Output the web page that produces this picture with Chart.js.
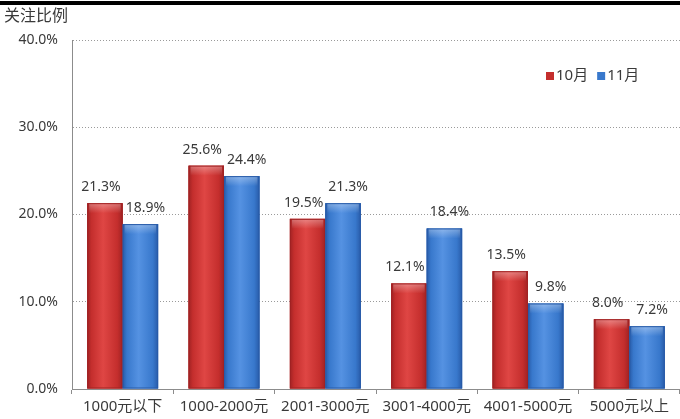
<!DOCTYPE html>
<html>
<head>
<meta charset="utf-8">
<script src="https://cdn.jsdelivr.net/npm/chart.js@4.4.1/dist/chart.umd.min.js"></script>
<style>
  html, body { margin: 0; padding: 0; background: #fff; }
  #wrap { width: 680px; height: 419px; position: relative; }
</style>
</head>
<body>
<div id="wrap"><canvas id="chart-price"></canvas></div>
<script>
// ===== 价格段关注比例 =====
const CATEGORIES = ['1000元以下', '1000-2000元', '2001-3000元', '3001-4000元', '4001-5000元', '5000元以上'];
const SERIES_NAMES = ['10月', '11月'];
const OCT_VALUES = [21.3, 25.6, 19.5, 12.1, 13.5, 8.0];
const NOV_VALUES = [18.9, 24.4, 21.3, 18.4, 9.8, 7.2];
const Y_TICKS = [0, 10, 20, 30, 40];

const THEME = {
  ink: '#3a3a3a',
  grid: '#9a9a9a',
  axis: '#8c8c8c',
  red: '#c42e2d',
  redLight: '#df4644',
  redDark: '#a02223',
  blue: '#3878cc',
  blueLight: '#5592e2',
  blueDark: '#285ba8',
};
const FONT = '"Noto Sans", "Noto Sans CJK SC", sans-serif';

// 柱子的立体渐变 + 数值标签
const barShading = {
  id: 'barShading',
  afterDatasetsDraw(chart) {
    const ctx = chart.ctx;
    chart.data.datasets.forEach((ds, di) => {
      const meta = chart.getDatasetMeta(di);
      const light = di === 0 ? THEME.redLight : THEME.blueLight;
      const base = di === 0 ? THEME.red : THEME.blue;
      const dark = di === 0 ? THEME.redDark : THEME.blueDark;
      meta.data.forEach((bar, i) => {
        const left = bar.x - bar.width / 2;
        const top = bar.y;
        const h = bar.base - bar.y;
        ctx.save();
        const g = ctx.createLinearGradient(left, 0, left + bar.width, 0);
        g.addColorStop(0, dark);
        g.addColorStop(0.12, base);
        g.addColorStop(0.45, light);
        g.addColorStop(0.85, base);
        g.addColorStop(1, dark);
        ctx.fillStyle = g;
        ctx.fillRect(left, top, bar.width, h);
        // 顶部高光
        const tg = ctx.createLinearGradient(0, top, 0, top + 10);
        tg.addColorStop(0, 'rgba(255,255,255,0.35)');
        tg.addColorStop(1, 'rgba(255,255,255,0)');
        ctx.fillStyle = tg;
        ctx.fillRect(left + 2, top, bar.width - 4, 10);
        ctx.strokeStyle = dark;
        ctx.lineWidth = 1;
        ctx.strokeRect(left + 0.5, top + 0.5, bar.width - 1, h - 1);
        // 数值标签
        ctx.fillStyle = THEME.ink;
        ctx.font = '14px ' + FONT;
        ctx.textAlign = 'center';
        ctx.textBaseline = 'bottom';
        const shift = di === 0 ? -4 : 5;
        ctx.fillText(ds.data[i].toFixed(1) + '%', bar.x + shift, top - 9);
        ctx.restore();
      });
    });
  }
};

// 标题、顶部黑线与图例
const decorations = {
  id: 'decorations',
  afterDraw(chart) {
    const ctx = chart.ctx;
    ctx.save();
    ctx.fillStyle = '#000';
    ctx.fillRect(0, 1, chart.width, 4);
    ctx.fillStyle = THEME.ink;
    ctx.font = '16px ' + FONT;
    ctx.textAlign = 'left';
    ctx.textBaseline = 'middle';
    ctx.fillText('关注比例', 4, 16);

    let x = 546;
    const y = 76;
    ctx.font = '15px ' + FONT;
    SERIES_NAMES.forEach((name, i) => {
      ctx.fillStyle = i === 0 ? THEME.red : THEME.blue;
      ctx.fillRect(x, y - 4, 8, 8);
      ctx.fillStyle = THEME.ink;
      ctx.fillText(name, x + 10, y);
      x += 10 + ctx.measureText(name).width + 9;
    });
    ctx.restore();
  }
};

new Chart(document.getElementById('chart-price'), {
  type: 'bar',
  data: {
    labels: CATEGORIES,
    datasets: [
      { label: SERIES_NAMES[0], data: OCT_VALUES, backgroundColor: THEME.red, borderWidth: 0 },
      { label: SERIES_NAMES[1], data: NOV_VALUES, backgroundColor: THEME.blue, borderWidth: 0 },
    ]
  },
  plugins: [barShading, decorations],
  options: {
    responsive: true,
    maintainAspectRatio: false,
    animation: false,
    layout: { padding: { top: 40, right: 0, left: 0, bottom: 0 } },
    datasets: { bar: { categoryPercentage: 0.7, barPercentage: 1.0 } },
    plugins: { legend: { display: false }, tooltip: { enabled: false } },
    scales: {
      x: {
        offset: true,
        grid: { offset: true, drawOnChartArea: false, drawTicks: true, tickLength: 5, color: THEME.axis },
        border: { color: THEME.axis, width: 1 },
        ticks: { color: THEME.ink, font: { size: 15, family: FONT }, padding: 4, maxRotation: 0, autoSkip: false },
        afterFit(scale) { scale.height = 30; }
      },
      y: {
        min: 0,
        max: 40,
        afterBuildTicks(scale) { scale.ticks = Y_TICKS.map(v => ({ value: v })); },
        grid: { color: THEME.grid, drawTicks: false, lineWidth: 1 },
        border: { color: THEME.axis, width: 1, dash: [1, 2] },
        ticks: {
          color: THEME.ink,
          font: { size: 14, family: FONT },
          padding: 14,
          callback: (v) => v.toFixed(1) + '%'
        },
        afterFit(scale) { scale.width = 72; }
      }
    }
  }
});
</script>
</body>
</html>
